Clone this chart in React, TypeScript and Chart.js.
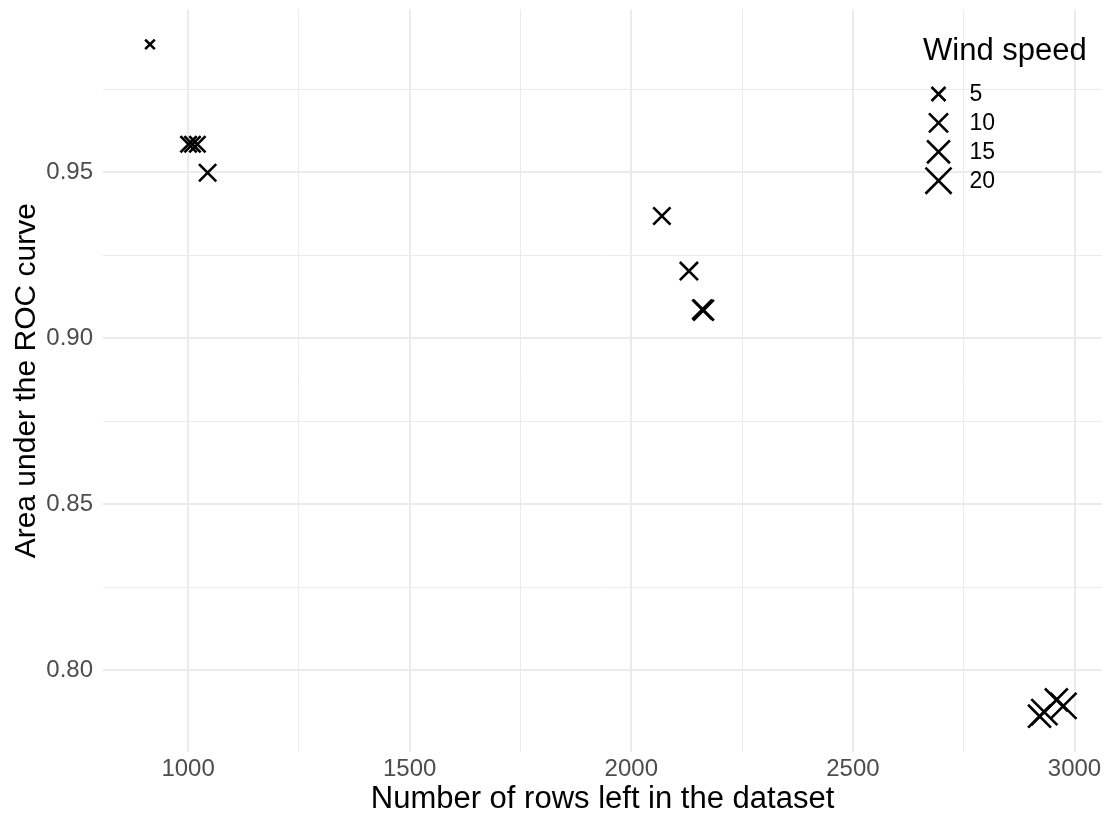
import React, { useEffect, useRef } from 'react';
import { Chart, registerables } from 'chart.js';

Chart.register(...registerables);

// ---- data ----
const rowsLeft = [914, 1001, 1010, 1021, 1044, 2069, 2130, 2160, 2163, 2921, 2932, 2959, 2975];
const aucValues = [0.9885, 0.9584, 0.9584, 0.9584, 0.9498, 0.9368, 0.9202, 0.9086, 0.9084, 0.7861, 0.7873, 0.791, 0.7892];
const windSpeed = [2, 7, 7, 7, 8, 8, 9, 11, 12, 15, 20, 15, 20];

const xGridValues = [1000, 1250, 1500, 1750, 2000, 2250, 2500, 2750, 3000];
const xTickLabels = ['1000', '', '1500', '', '2000', '', '2500', '', '3000'];
const yGridValues = [0.8, 0.825, 0.85, 0.875, 0.9, 0.925, 0.95, 0.975];
const yTickLabels = ['0.80', '', '0.85', '', '0.90', '', '0.95', ''];

const legendTitle = 'Wind speed';
const legendSpeeds = [5, 10, 15, 20];
const legendLabels = ['5', '10', '15', '20'];

const xTitle = 'Number of rows left in the dataset';
const yTitle = 'Area under the ROC curve';

const FONT = "'Liberation Sans', Arial, Helvetica, sans-serif";
const GRID = '#EBEBEB';
const TICK_COLOR = '#4D4D4D';
const STROKE = 2.6;

// size scale: wind speed -> half-extent of the cross in px
function crossHalf(v: number): number {
  return 1 + 2.69 * Math.sqrt(v);
}

function drawCross(ctx: CanvasRenderingContext2D, x: number, y: number, half: number, lw: number) {
  ctx.beginPath();
  ctx.moveTo(x - half, y - half);
  ctx.lineTo(x + half, y + half);
  ctx.moveTo(x + half, y - half);
  ctx.lineTo(x - half, y + half);
  ctx.lineWidth = lw;
  ctx.strokeStyle = '#000';
  ctx.stroke();
}

const windLegend = {
  id: 'windLegend',
  afterDraw(chart: any) {
    const { ctx, chartArea } = chart;
    const left = chartArea.right - 179;
    ctx.save();
    ctx.fillStyle = '#000';
    ctx.textAlign = 'left';
    ctx.textBaseline = 'middle';
    ctx.font = `31px ${FONT}`;
    ctx.fillText(legendTitle, left, 51);
    ctx.font = `23px ${FONT}`;
    legendSpeeds.forEach((v, i) => {
      const cy = 94 + i * 28.9;
      drawCross(ctx, left + 15.5, cy, crossHalf(v), STROKE);
      ctx.fillStyle = '#000';
      ctx.fillText(legendLabels[i], left + 46.5, cy + 1);
    });
    ctx.restore();
  },
};

export default function App() {
  const canvasRef = useRef<HTMLCanvasElement | null>(null);

  useEffect(() => {
    if (!canvasRef.current) return;
    const chart = new Chart(canvasRef.current, {
      type: 'scatter',
      data: {
        datasets: [
          {
            label: 'AUC',
            data: rowsLeft.map((x, i) => ({ x, y: aucValues[i] })),
            pointStyle: 'crossRot',
            pointRadius: (c: any) => crossHalf(windSpeed[c.dataIndex] ?? 5) * Math.SQRT2,
            pointHoverRadius: (c: any) => crossHalf(windSpeed[c.dataIndex] ?? 5) * Math.SQRT2,
            borderColor: '#000',
            backgroundColor: 'rgba(0,0,0,0)',
            borderWidth: STROKE,
            pointBorderWidth: STROKE,
            clip: false,
          } as any,
        ],
      },
      options: {
        animation: false,
        responsive: true,
        maintainAspectRatio: false,
        layout: { autoPadding: false, padding: { top: 9.5, right: 3, left: 0, bottom: 0 } },
        plugins: {
          legend: { display: false },
          tooltip: { enabled: false },
        },
        scales: {
          x: {
            type: 'linear',
            min: 808,
            max: 3062,
            afterBuildTicks: (scale: any) => {
              scale.ticks = xGridValues.map((value) => ({ value }));
            },
            afterFit: (scale: any) => {
              scale.height = 63;
              scale.paddingLeft = 0;
              scale.paddingRight = 0;
            },
            border: { display: false },
            grid: {
              color: GRID,
              lineWidth: (c: any) => (c.index % 2 === 0 ? 2 : 1),
              drawTicks: false,
            },
            ticks: {
              autoSkip: false,
              maxRotation: 0,
              padding: 2.5,
              color: TICK_COLOR,
              font: { family: FONT, size: 24 },
              callback: (_v: any, idx: number) => xTickLabels[idx],
            },
            title: {
              display: true,
              text: xTitle,
              color: '#000',
              font: { family: FONT, size: 31, lineHeight: 1.0 },
              padding: { top: 0, bottom: 0 },
            },
          },
          y: {
            type: 'linear',
            min: 0.7753,
            max: 0.999,
            afterBuildTicks: (scale: any) => {
              scale.ticks = yGridValues.map((value) => ({ value }));
            },
            afterFit: (scale: any) => {
              scale.width = 103;
              scale.paddingTop = 0;
              scale.paddingBottom = 0;
            },
            border: { display: false },
            grid: {
              color: GRID,
              lineWidth: (c: any) => (c.index % 2 === 0 ? 2 : 1),
              drawTicks: false,
            },
            ticks: {
              autoSkip: false,
              padding: 10,
              color: TICK_COLOR,
              font: { family: FONT, size: 24 },
              callback: (_v: any, idx: number) => yTickLabels[idx],
            },
            title: {
              display: true,
              text: yTitle,
              color: '#000',
              font: { family: FONT, size: 30, lineHeight: 1.2 },
              padding: { top: 9, bottom: 0 },
            },
          },
        },
      } as any,
      plugins: [windLegend],
    });
    return () => chart.destroy();
  }, []);

  return (
    <div style={{ position: 'fixed', left: 0, top: 0, width: 1105, height: 815, background: '#fff' }}>
      <canvas ref={canvasRef} style={{ display: 'block' }} />
    </div>
  );
}
